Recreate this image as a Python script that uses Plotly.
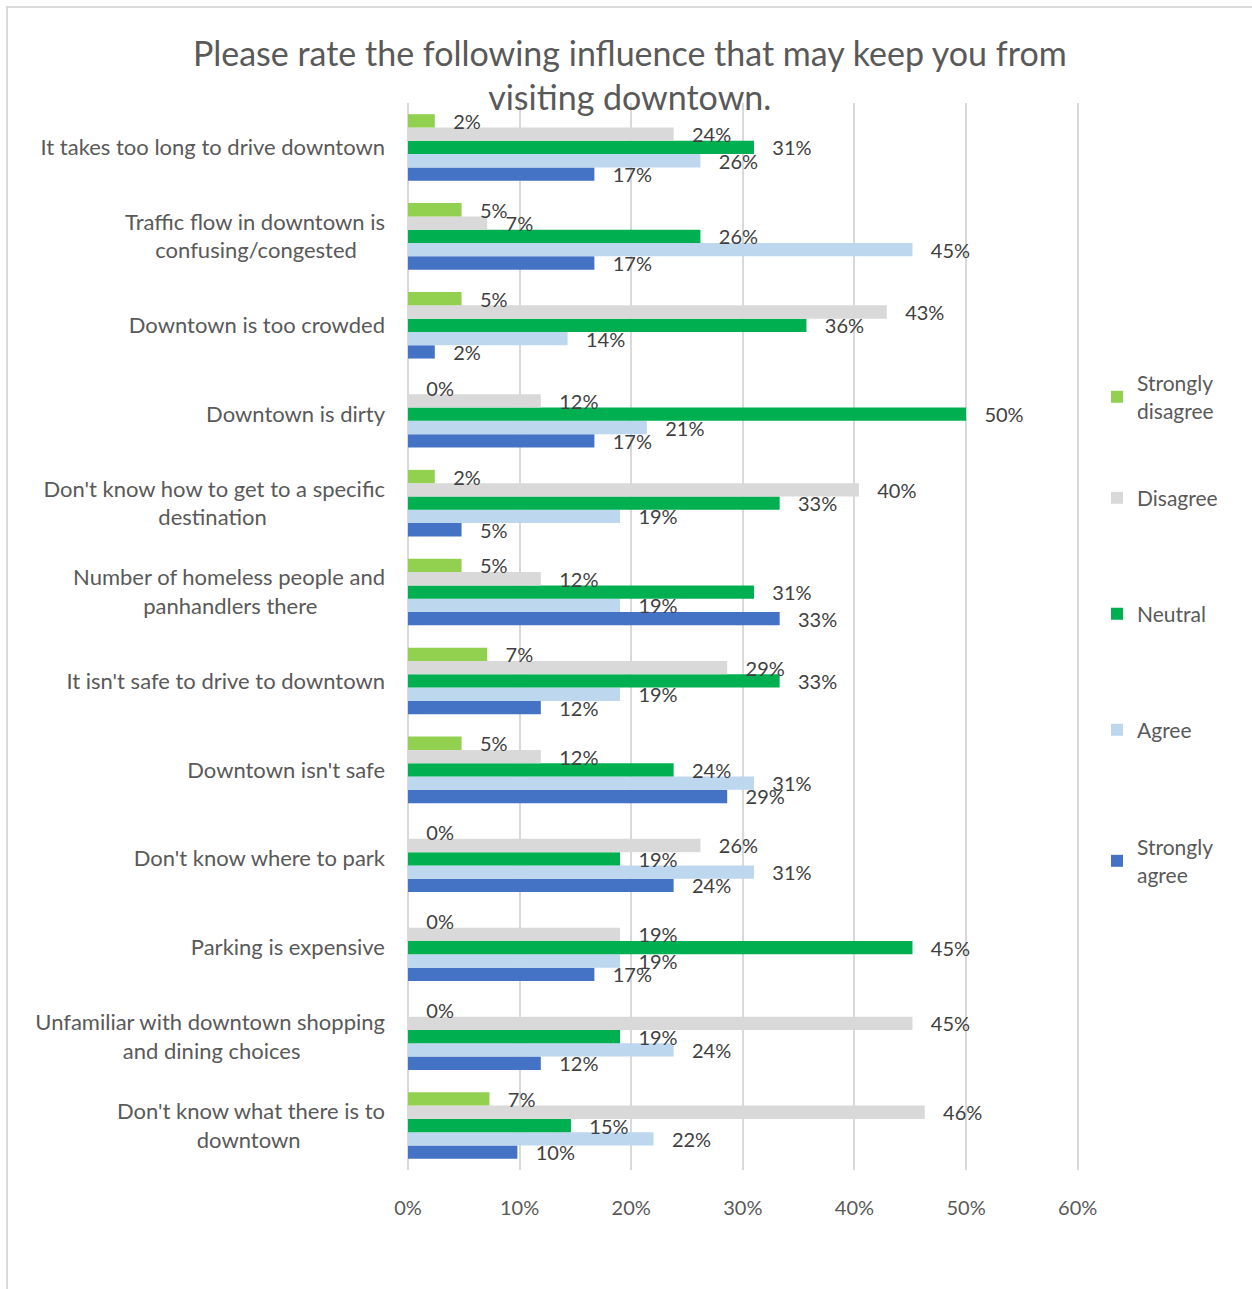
import plotly.graph_objects as go

# Survey answer categories (top to bottom as shown)
categories = [
    "It takes too long to drive downtown",
    "Traffic flow in downtown is confusing/congested",
    "Downtown is too crowded",
    "Downtown is dirty",
    "Don't know how to get to a specific destination",
    "Number of homeless people and panhandlers there",
    "It isn't safe to drive to downtown",
    "Downtown isn't safe",
    "Don't know where to park",
    "Parking is expensive",
    "Unfamiliar with downtown shopping and dining choices",
    "Don't know what there is to downtown",
]

NB = "\u00a0"
# Wrapped axis labels; short second lines padded so each block reads centred
category_labels = [
    "It takes too long to drive downtown",
    "Traffic flow in downtown is<br>confusing/congested" + NB * 5,
    "Downtown is too crowded",
    "Downtown is dirty",
    "Don't know how to get to a specific<br>destination" + NB * 21,
    "Number of homeless people and<br>panhandlers there" + NB * 12,
    "It isn't safe to drive to downtown",
    "Downtown isn't safe",
    "Don't know where to park",
    "Parking is expensive",
    "Unfamiliar with downtown shopping<br>and dining choices" + NB * 15,
    "Don't know what there is to<br>downtown" + NB * 15,
]

# Share of respondents per answer (fractions)
strongly_disagree = [0.024, 0.048, 0.048, 0.000, 0.024, 0.048, 0.071, 0.048, 0.000, 0.000, 0.000, 0.073]
disagree          = [0.238, 0.071, 0.429, 0.119, 0.404, 0.119, 0.286, 0.119, 0.262, 0.190, 0.452, 0.463]
neutral           = [0.310, 0.262, 0.357, 0.500, 0.333, 0.310, 0.333, 0.238, 0.190, 0.452, 0.190, 0.146]
agree             = [0.262, 0.452, 0.143, 0.214, 0.190, 0.190, 0.190, 0.310, 0.310, 0.190, 0.238, 0.220]
strongly_agree    = [0.167, 0.167, 0.024, 0.167, 0.048, 0.333, 0.119, 0.286, 0.238, 0.167, 0.119, 0.098]

x_ticks = [0, 0.1, 0.2, 0.3, 0.4, 0.5, 0.6]
x_tick_labels = ["0%", "10%", "20%", "30%", "40%", "50%", "60%"]

W, H = 1252, 1289
L, R, T, B = 408, 173, 103, 119
FONT = "Lato"
GREY_TEXT = "#595959"
GRID = "#D9D9D9"

# series drawn bottom-of-group first, so later bars sit over earlier labels
series = [
    ("Strongly<br>agree", strongly_agree, "#4472C4", "legend5", 861),
    ("Agree", agree, "#BDD7EE", "legend4", 730),
    ("Neutral", neutral, "#00B050", "legend3", 614),
    ("Disagree", disagree, "#D9D9D9", "legend2", 498),
    ("Strongly<br>disagree", strongly_disagree, "#92D050", "legend", 397),
]

fig = go.Figure()
for name, vals, color, leg, _ in series:
    fig.add_trace(go.Bar(
        y=categories,
        x=vals,
        name=name,
        orientation="h",
        marker=dict(color=color, line=dict(width=0)),
        texttemplate=NB * 3 + "%{x:.0%}",
        textposition="outside",
        constraintext="none",
        cliponaxis=False,
        textfont=dict(family=FONT, size=20, color="#404040"),
        legend=leg,
        hoverinfo="skip",
    ))

pw = W - L - R
ph = H - T - B


def px_x(p):
    return (p - L) / pw


def px_y(p):
    return 1 - (p - T) / ph


legends = {}
for name, vals, color, leg, ycen in series:
    legends[leg] = dict(
        x=px_x(1097), xanchor="left",
        y=px_y(ycen), yanchor="middle",
        font=dict(family=FONT, size=21, color=GREY_TEXT),
        bgcolor="rgba(0,0,0,0)",
        itemclick=False, itemdoubleclick=False,
    )

fig.update_layout(
    width=W, height=H,
    margin=dict(l=L, r=R, t=T, b=B, autoexpand=False),
    paper_bgcolor="white",
    plot_bgcolor="white",
    barmode="group",
    bargap=0.252,
    bargroupgap=0,
    showlegend=True,
    title=dict(
        text="Please rate the following influence that may keep you from<br>visiting downtown.",
        x=0.503, xref="container", xanchor="center",
        y=1 - 66 / H, yref="container", yanchor="top",
        font=dict(family=FONT, size=34, color=GREY_TEXT),
    ),
    xaxis=dict(
        range=[0, 0.6012],
        tickvals=x_ticks,
        ticktext=x_tick_labels,
        showgrid=True, gridcolor=GRID, gridwidth=2,
        zeroline=True, zerolinecolor=GRID, zerolinewidth=2,
        showline=False,
        ticks="", ticklabelstandoff=24,
        tickfont=dict(family=FONT, size=20, color=GREY_TEXT),
        fixedrange=True,
    ),
    yaxis=dict(
        categoryorder="array",
        categoryarray=categories[::-1],
        tickvals=categories,
        ticktext=category_labels,
        range=[-0.5, len(categories) - 0.5],
        showgrid=False, zeroline=False, showline=False,
        ticks="", ticklabelstandoff=22,
        tickfont=dict(family=FONT, size=22, color=GREY_TEXT),
        fixedrange=True,
    ),
    **legends,
    shapes=[dict(
        type="rect", xref="paper", yref="paper",
        x0=px_x(7), x1=px_x(W + 20), y0=px_y(H + 20), y1=px_y(7),
        line=dict(color="#D9D9D9", width=2), fillcolor="rgba(0,0,0,0)",
        layer="below",
    )],
)

fig.write_html("out.html")
